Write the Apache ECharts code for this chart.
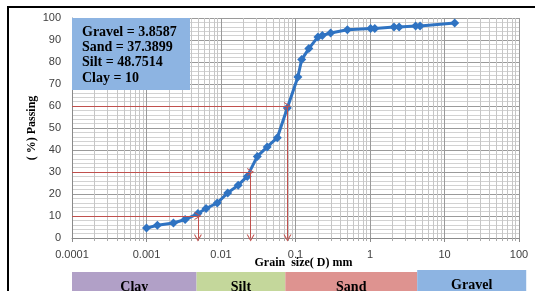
<!DOCTYPE html>
<html>
<head>
<meta charset="utf-8">
<script src="https://cdn.jsdelivr.net/npm/echarts@6/dist/echarts.min.js"></script>
<style>
  html, body { margin: 0; padding: 0; background: #fff; }
  #chart { width: 535px; height: 291px; }
</style>
</head>
<body>
<div id="chart"></div>
<script>
// grain size (mm) and percent passing
const grainSize = [0.001, 0.0014, 0.0023, 0.0033, 0.0049, 0.0063, 0.0089, 0.0123, 0.017, 0.0225,
  0.0307, 0.0417, 0.057, 0.0776, 0.1076, 0.121, 0.151, 0.2, 0.229, 0.296,
  0.497, 1.02, 1.16, 2.1, 2.46, 4.1, 4.7, 13.7];
const passing = [4.5, 5.8, 6.8, 8.4, 11.1, 13.4, 15.9, 20.5, 24.0, 28.0,
  37.1, 41.4, 45.6, 59.1, 73.2, 81.1, 86.1, 91.4, 92.1, 93.2,
  94.7, 95.2, 95.2, 95.9, 95.9, 96.4, 96.4, 97.7];

// D10 / D30 / D60 guide lines
const dPercent = [10, 30, 60];
const dSize = [0.0049, 0.025, 0.078];

const summaryLines = ['Gravel = 3.8587', 'Sand = 37.3899', 'Silt = 48.7514', 'Clay = 10'];

// classification band under the axis
const bandNames = ['Clay', 'Silt', 'Sand', 'Gravel'];
const bandEdges = [0.0001, 0.0047, 0.073, 4.3, 125];
const bandColors = ['#b1a0c7', '#c4d79b', '#de9390', '#8db4e2'];

const chart = echarts.init(document.getElementById('chart'));

const redColor = '#c0504d';
const openArrow = 'path://M5,0 L10,10 L8.6,10 L5,2.8 L1.4,10 L0,10 Z';

// guide lines: horizontal from the y axis to the curve, then down to 0
const guideLines = [];
dPercent.forEach((pct, i) => {
  guideLines.push([{ coord: [0.0001, pct] }, { coord: [dSize[i], pct] }]);
  guideLines.push([{ coord: [dSize[i], pct] }, { coord: [dSize[i], 0] }]);
});

const option = {
  animation: false,
  grid: { left: 72, right: 16, top: 18, bottom: 53 },
  xAxis: {
    type: 'log',
    logBase: 10,
    min: 0.0001,
    max: 100,
    name: 'Grain  size( D) mm',
    nameLocation: 'middle',
    nameGap: 19,
    nameMoveOverlap: false,
    nameTextStyle: {
      fontFamily: 'Liberation Serif', fontWeight: 'bold', fontSize: 12, color: '#000',
      padding: [0, 0, 0, 16]
    },
    axisLine: { show: true, lineStyle: { color: '#8a8a8a' } },
    axisTick: { show: true, length: 4, lineStyle: { color: '#8a8a8a' } },
    minorTick: { show: true, splitNumber: 9, length: 3, lineStyle: { color: '#aaa' } },
    splitLine: { show: true, lineStyle: { color: '#9a9a9a' } },
    minorSplitLine: { show: true, lineStyle: { color: '#c6c6c6' } },
    axisLabel: {
      margin: 11, fontSize: 11, color: '#404040', fontFamily: 'Liberation Sans',
      formatter: v => String(v)
    }
  },
  yAxis: {
    type: 'value',
    min: 0,
    max: 100,
    interval: 10,
    name: '( %) Passing',
    nameLocation: 'middle',
    nameGap: 34,
    nameMoveOverlap: false,
    nameTextStyle: { fontFamily: 'Liberation Serif', fontWeight: 'bold', fontSize: 12, color: '#000' },
    axisLine: { show: true, lineStyle: { color: '#8a8a8a' } },
    axisTick: { show: false },
    minorTick: { show: false, splitNumber: 5 },
    splitLine: { show: true, lineStyle: { color: '#9a9a9a' } },
    minorSplitLine: { show: true, lineStyle: { color: '#d2d2d2' } },
    axisLabel: { margin: 11, fontSize: 11, color: '#404040', fontFamily: 'Liberation Sans' }
  },
  series: [
    {
      name: 'guides',
      type: 'line',
      data: [],
      z: 1,
      markLine: {
        silent: true,
        animation: false,
        symbol: ['none', openArrow],
        symbolSize: [8, 7],
        label: { show: false },
        lineStyle: { color: redColor, width: 1, type: 'solid' },
        data: guideLines
      }
    },
    {
      name: 'Passing',
      type: 'line',
      z: 3,
      data: grainSize.map((d, i) => [d, passing[i]]),
      symbol: 'diamond',
      symbolSize: 9,
      lineStyle: { color: '#2f73c2', width: 3 },
      itemStyle: { color: '#2f73c2' }
    }
  ]
};

chart.setOption(option);

// overlay: summary box, classification band, frame
const graphics = [];
graphics.push({
  type: 'rect', shape: { x: 72, y: 18, width: 118, height: 72 },
  style: { fill: '#8db4e2' }, z: 10
});
summaryLines.forEach((t, i) => {
  graphics.push({
    type: 'text', x: 82, y: 32 + i * 15.3, z: 11,
    style: {
      text: t, fill: '#000', font: 'bold 14px "Liberation Serif"',
      textAlign: 'left', textVerticalAlign: 'middle'
    }
  });
});
bandNames.forEach((name, i) => {
  const x0 = chart.convertToPixel({ xAxisIndex: 0 }, bandEdges[i]);
  const x1 = chart.convertToPixel({ xAxisIndex: 0 }, bandEdges[i + 1]);
  const top = name === 'Gravel' ? 270 : 272;
  graphics.push({
    type: 'rect', shape: { x: x0, y: top, width: x1 - x0, height: 30 },
    style: { fill: bandColors[i] }, z: 10
  });
  graphics.push({
    type: 'text', x: (x0 + x1) / 2, y: top + 15, z: 11,
    style: {
      text: name, fill: '#000', font: 'bold 14px "Liberation Serif"',
      textAlign: 'center', textVerticalAlign: 'middle'
    }
  });
});
graphics.push({
  type: 'rect', shape: { x: 7, y: 6, width: 528, height: 2 }, style: { fill: '#000' }, z: 12
});
graphics.push({
  type: 'rect', shape: { x: 7, y: 6, width: 2, height: 285 }, style: { fill: '#000' }, z: 12
});

chart.setOption({ graphic: graphics });
</script>
</body>
</html>
